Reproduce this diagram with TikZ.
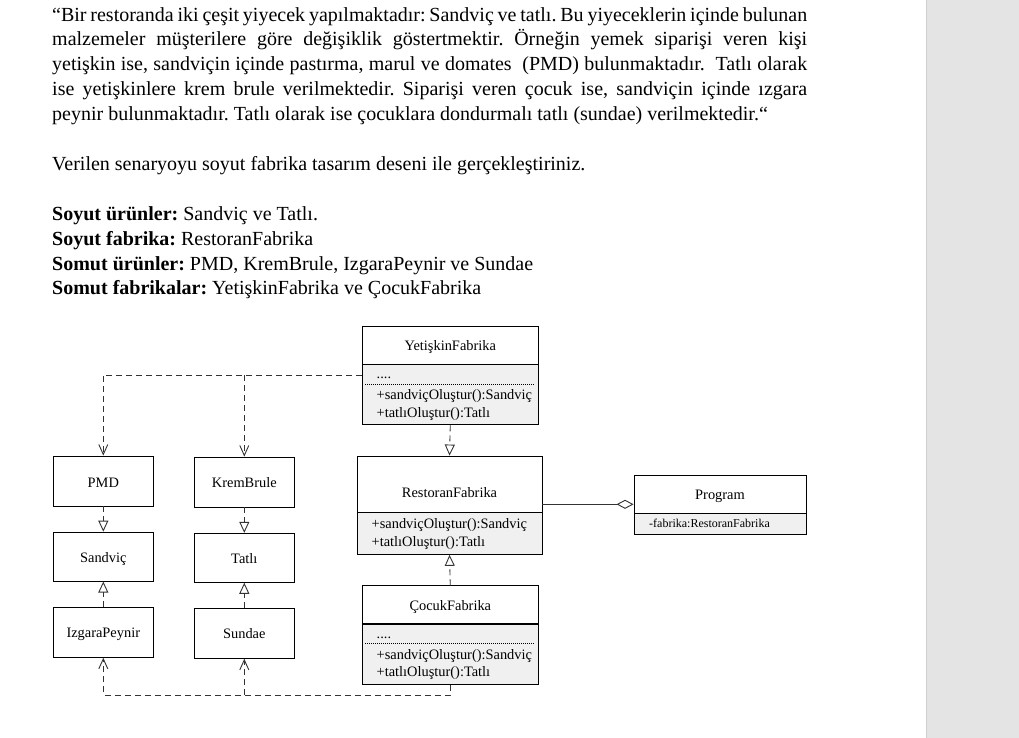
\documentclass[tikz,border=0pt]{standalone}
\usepackage{fontspec}
\setmainfont{Liberation Serif}
\usetikzlibrary{arrows.meta}
\frenchspacing
\definecolor{panelgray}{HTML}{E4E4E4}
\definecolor{panelline}{HTML}{CFCFCF}
\definecolor{compgray}{HTML}{F0F0F0}
\definecolor{linec}{HTML}{333333}
\newcommand{\bodysize}{\fontsize{20}{24}\selectfont}
\newcommand{\diagsize}{\fontsize{14.4}{17}\selectfont}
\newcommand{\smallsize}{\fontsize{12}{14}\selectfont}
\newcommand{\jline}[1]{\hbox to 755pt{#1}}
\tikzset{
  body/.style={anchor=base west, inner sep=0pt, font=\bodysize},
  cls/.style={draw=black, line width=0.9pt, fill=white, inner sep=0pt},
  comp/.style={draw=black, line width=0.9pt, fill=compgray, inner sep=0pt},
  ctext/.style={anchor=base, inner sep=0pt, font=\diagsize},
  mtext/.style={anchor=base west, inner sep=0pt, font=\diagsize},
  dashl/.style={draw=linec, line width=0.9pt, dash pattern=on 6pt off 4pt},
  realize/.style={dashl, -{Triangle[open, length=11pt, width=10pt]}},
  depend/.style={dashl, -{Straight Barb[length=10pt, width=9pt]}},
  aggr/.style={draw=linec, line width=0.9pt, -{Diamond[open, length=17pt, width=9pt]}},
  dotsep/.style={draw=black, line width=0.6pt, dash pattern=on 1pt off 1pt}
}
\begin{document}
\begin{tikzpicture}[x=1pt, y=-1pt]
\useasboundingbox (0,0) rectangle (1019,738);
\fill[white] (0,0) rectangle (1019,738);
% right panel
\fill[panelgray] (926,0) rectangle (1019,738);
\draw[panelline, line width=0.6pt] (926,0) -- (926,738);

% text
\node[body] (t1) at (52,21.5) {\jline{“Bir restoranda iki çeşit yiyecek yapılmaktadır: Sandviç ve tatlı. Bu yiyeceklerin içinde bulunan}};
\node[body] (t2) at (52,45.8) {\jline{malzemeler müşterilere göre değişiklik göstertmektir. Örneğin yemek siparişi veren kişi}};
\node[body] (t3) at (52,70.5) {\jline{yetişkin ise, sandviçin içinde pastırma, marul ve domates \ (PMD) bulunmaktadır. \ Tatlı olarak}};
\node[body] (t4) at (52,95.5) {\jline{ise yetişkinlere krem brule verilmektedir. Siparişi veren çocuk ise, sandviçin içinde ızgara}};
\node[body] (t5) at (52,120.5) {peynir bulunmaktadır. Tatlı olarak ise çocuklara dondurmalı tatlı (sundae) verilmektedir.“};
\node[body] (t6) at (52,170.5) {Verilen senaryoyu soyut fabrika tasarım deseni ile gerçekleştiriniz.};
\node[body] (t7) at (52,220) {\textbf{Soyut ürünler:} Sandviç ve Tatlı.};
\node[body] (t8) at (52,245) {\textbf{Soyut fabrika:} RestoranFabrika};
\node[body] (t9) at (52,270) {\textbf{Somut ürünler:} PMD, KremBrule, IzgaraPeynir ve Sundae};
\node[body] (t10) at (52,294) {\textbf{Somut fabrikalar:} YetişkinFabrika ve ÇocukFabrika};

% YetiskinFabrika
\node[cls, minimum width=176pt, minimum height=38pt] (yft) at (450.3,345) {};
\node[comp, minimum width=176pt, minimum height=60pt, anchor=north] (yfm) at (yft.south) {};
\node[ctext] (yfn) at (450.3,350.5) {YetişkinFabrika};
\node[mtext] (yfd) at (376.5,378) {....};
\draw[dotsep] (365,384) -- (535,384);
\node[mtext] (yf1) at (376.5,399.5) {+sandviçOluştur():Sandviç};
\node[mtext] (yf2) at (376.5,417) {+tatlıOluştur():Tatlı};

% RestoranFabrika
\node[cls, minimum width=185pt, minimum height=56pt] (rft) at (449.5,484) {};
\node[comp, minimum width=185pt, minimum height=41.5pt, anchor=north] (rfm) at (rft.south) {};
\node[ctext] (rfn) at (449.5,497.5) {RestoranFabrika};
\node[mtext] (rf1) at (371.5,528) {+sandviçOluştur():Sandviç};
\node[mtext] (rf2) at (371.5,546) {+tatlıOluştur():Tatlı};

% CocukFabrika
\node[cls, minimum width=176pt, minimum height=37.5pt] (cft) at (450.3,604.5) {};
\node[comp, minimum width=176pt, minimum height=60pt, anchor=north] (cfm) at (cft.south) {};
\node[ctext] (cfn) at (450.3,610.5) {ÇocukFabrika};
\node[mtext] (cfd) at (376.5,638) {....};
\draw[dotsep] (365,643) -- (535,643);
\node[mtext] (cf1) at (376.5,659) {+sandviçOluştur():Sandviç};
\node[mtext] (cf2) at (376.5,676) {+tatlıOluştur():Tatlı};

% Program
\node[cls, minimum width=172pt, minimum height=38pt] (pgt) at (720,494) {};
\node[comp, minimum width=172pt, minimum height=21pt, anchor=north] (pgm) at (pgt.south) {};
\node[ctext] (pgn) at (720,499.5) {Program};
\node[anchor=base west, inner sep=0pt, font=\smallsize] (pga) at (649,527.5) {-fabrika:RestoranFabrika};

% products
\node[cls, minimum width=100pt, minimum height=50pt] (pmd) at (103.3,481) {};
\node[ctext] (pmdn) at (103.3,487) {PMD};
\node[cls, minimum width=100pt, minimum height=49pt] (snd) at (103.3,556.6) {};
\node[ctext] (sndn) at (103.3,562.5) {Sandviç};
\node[cls, minimum width=100pt, minimum height=50pt] (izg) at (103.3,632.3) {};
\node[ctext] (izgn) at (103.3,637.5) {IzgaraPeynir};
\node[cls, minimum width=100pt, minimum height=50pt] (krb) at (244.3,482) {};
\node[ctext] (krbn) at (244.3,487.5) {KremBrule};
\node[cls, minimum width=100pt, minimum height=49pt] (ttl) at (244.3,557.8) {};
\node[ctext] (ttln) at (244.3,563) {Tatlı};
\node[cls, minimum width=100pt, minimum height=50pt] (sun) at (244.3,633.3) {};
\node[ctext] (sunn) at (244.3,638.5) {Sundae};

% realizations
\draw[realize] (yfm.south) -- (rft.north);
\draw[realize] (cft.north) -- (rfm.south);
\draw[realize] (pmd.south) -- (snd.north);
\draw[realize] (izg.north) -- (snd.south);
\draw[realize] (krb.south) -- (ttl.north);
\draw[realize] (sun.north) -- (ttl.south);

% dependencies
\coordinate (ys) at (yfm.north west |- 0,375);
\coordinate (yj) at (krb.north |- 0,375);
\coordinate (cs) at (cfm.south |- 0,695);
\coordinate (cj) at (sun.south |- 0,695);
\draw[depend] (ys) -| (pmd.north);
\draw[depend] (yj) -- (krb.north);
\draw[depend] (cfm.south) -- (cs) -| (izg.south);
\draw[depend] (cj) -- (sun.south);

% aggregation
\coordinate (ra) at (rft.east |- 0,504.3);
\coordinate (pa) at (pgt.west |- 0,504.3);
\draw[aggr] (ra) -- (pa);
\end{tikzpicture}
\end{document}
